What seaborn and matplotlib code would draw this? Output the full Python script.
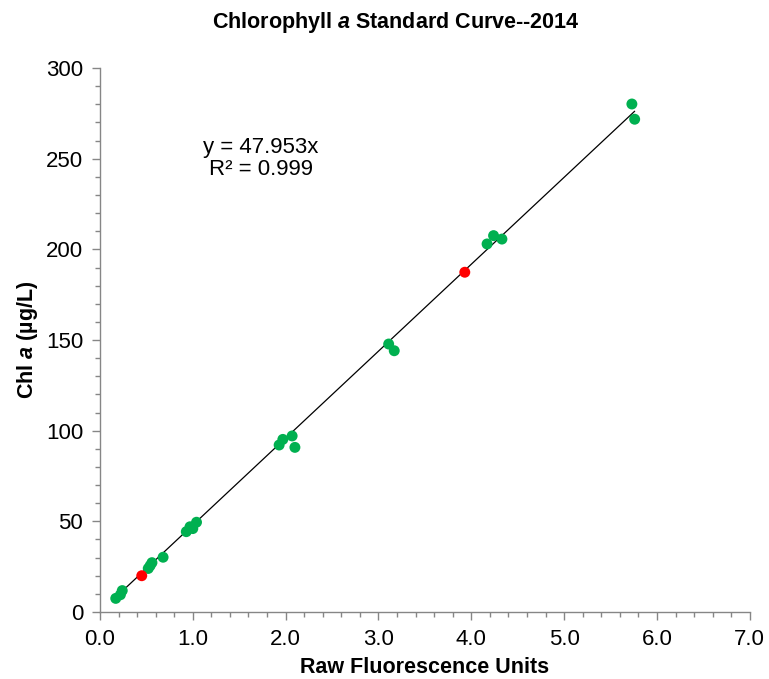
import matplotlib
matplotlib.use("Agg")
import matplotlib.pyplot as plt
import seaborn as sns
import pandas as pd
import numpy as np
from matplotlib.ticker import MultipleLocator, FormatStrFormatter

# ---- data ----
green_x = [0.17, 0.22, 0.24, 0.52, 0.54, 0.56, 0.68, 0.93, 0.97, 1.00, 1.04,
           1.93, 1.97, 2.07, 2.10, 3.11, 3.17, 4.17, 4.24, 4.33, 5.73, 5.76]
green_y = [7.5, 9.5, 11.8, 24.0, 25.5, 27.2, 30.2, 44.3, 47.0, 46.0, 49.5,
           92.1, 95.2, 97.1, 90.8, 147.8, 144.1, 203.0, 207.6, 205.7, 280.2, 271.8]
red_x = [0.45, 3.93]
red_y = [20.0, 187.4]
slope = 47.953
r2 = 0.999

title_text = "Chlorophyll $\\mathbfit{a}$ Standard Curve--2014"
xlabel_text = "Raw Fluorescence Units"
ylabel_text = "Chl $\\mathbfit{a}$ (\u00b5g/L)"

df = pd.DataFrame({
    "x": green_x + red_x,
    "y": green_y + red_y,
    "grp": ["std"] * len(green_x) + ["check"] * len(red_x),
})

sns.set_theme(style="ticks")
plt.rcParams["font.family"] = ["Liberation Sans", "DejaVu Sans"]
plt.rcParams["text.color"] = "black"
plt.rcParams["axes.labelcolor"] = "black"
plt.rcParams["mathtext.fontset"] = "custom"
plt.rcParams["mathtext.rm"] = "Liberation Sans:bold"
plt.rcParams["mathtext.bfit"] = "Liberation Sans:italic:bold"
plt.rcParams["mathtext.it"] = "Liberation Sans:italic:bold"

fig = plt.figure(figsize=(7.69, 6.79), dpi=100)
ax = fig.add_axes([0.130, 0.0987, 0.845, 0.801])

# trend line through origin
xs = np.array([min(df["x"]), max(df["x"])])
ax.plot(xs, slope * xs, color="black", lw=0.9, zorder=1)

sns.scatterplot(data=df, x="x", y="y", hue="grp",
                palette={"std": "#00B050", "check": "#FF0000"},
                s=62, edgecolor="none", legend=False, ax=ax, zorder=2)

ax.set_xlim(0, 7)
ax.set_ylim(0, 300)
ax.xaxis.set_major_locator(MultipleLocator(1.0))
ax.xaxis.set_minor_locator(MultipleLocator(0.2))
ax.yaxis.set_major_locator(MultipleLocator(50))
ax.yaxis.set_minor_locator(MultipleLocator(10))
ax.xaxis.set_major_formatter(FormatStrFormatter("%.1f"))

grey = "#868686"
for side in ["top", "right"]:
    ax.spines[side].set_visible(False)
for side in ["left", "bottom"]:
    ax.spines[side].set_color(grey)
    ax.spines[side].set_linewidth(1.0)
ax.tick_params(which="major", direction="out", length=6, width=1.0,
               color=grey, labelsize=16, labelcolor="black", pad=6)
ax.tick_params(which="minor", direction="out", length=3.5, width=1.0, color=grey)

ax.set_xlabel(xlabel_text, fontsize=15.5, fontweight="bold", labelpad=5)
ax.set_ylabel(ylabel_text, fontsize=15.5, fontweight="bold", labelpad=4)
fig.suptitle(title_text, x=0.514, y=0.967, fontsize=15.5, fontweight="bold",
             va="center")

ax.text(1.73, 250, f"y = {slope}x\nR\u00b2 = {r2}", ha="center", va="center",
        fontsize=16, linespacing=1.05)

fig.savefig("out.png", dpi=100)
